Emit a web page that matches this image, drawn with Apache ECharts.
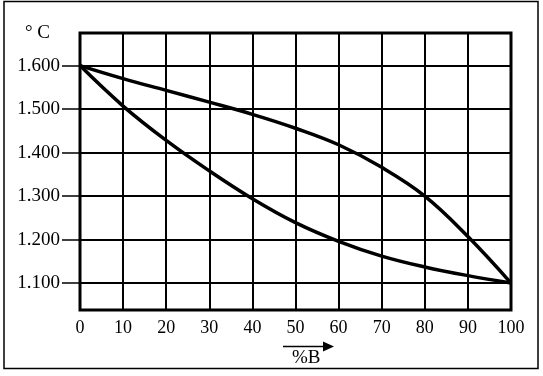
<!DOCTYPE html>
<html><head><meta charset="utf-8">
<script src="https://cdn.jsdelivr.net/npm/echarts@6/dist/echarts.min.js"></script>
<style>html,body{margin:0;padding:0;background:#fff}#c{width:543px;height:376px}</style>
</head><body><div id="c"></div>
<script>
const xValues = [0,10,20,30,40,50,60,70,80,90,100];
const upperCurve = [1600,1570,1543,1516,1488,1456,1418,1366,1300,1207,1100];
const lowerCurve = [1600,1507,1428,1358,1294,1239,1196,1162,1137,1117,1100];
const yTicks = [1100,1200,1300,1400,1500,1600];
const yUnit = '° C';
const xName = '%B';

const FONT = '"Liberation Serif", "DejaVu Serif", serif';
const chart = echarts.init(document.getElementById('c'));
chart.setOption({
  animation: false,
  backgroundColor: '#fff',
  grid: {left: 80, top: 33, right: 32, bottom: 66, show: true, borderColor: '#000', borderWidth: 3, backgroundColor: 'transparent'},
  xAxis: {
    type: 'value', min: 0, max: 100, interval: 10,
    axisLine: {show: false}, axisTick: {show: false},
    axisLabel: {color: '#000', fontFamily: FONT, fontSize: 18, margin: 9},
    splitLine: {show: true, lineStyle: {color: '#000', width: 2}}
  },
  yAxis: {
    type: 'value', min: 1038, max: 1675,
    axisLine: {show: false},
    axisTick: {show: true, customValues: yTicks, length: 18, lineStyle: {color: '#000', width: 1.5}},
    axisLabel: {customValues: yTicks, color: '#000', fontFamily: FONT, fontSize: 19, margin: 20,
      formatter: v => (v/1000).toFixed(3)},
    splitLine: {show: false}
  },
  graphic: [
    {type: 'rect', shape: {x: 4, y: 1.5, width: 534, height: 367}, style: {fill: 'none', stroke: '#000', lineWidth: 1.5}, z: 100},
    {type: 'text', left: 25, top: 24, style: {text: yUnit, font: '19px ' + FONT, fill: '#000'}},
    {type: 'text', left: 292, top: 349, style: {text: xName, font: '19px ' + FONT, fill: '#000'}},
    {type: 'line', shape: {x1: 283, y1: 346.5, x2: 326, y2: 346.5}, style: {stroke: '#000', lineWidth: 1.5}},
    {type: 'polygon', shape: {points: [[323,341.5],[334,346.5],[323,351.5]]}, style: {fill: '#000'}}
  ],
  series: [
    {type: 'line', data: yTicks.map(v => [0, v]), showSymbol: false, lineStyle: {width: 0},
      markLine: {silent: true, symbol: 'none', label: {show: false},
        lineStyle: {color: '#000', width: 2, type: 'solid'},
        data: yTicks.map(v => ({yAxis: v}))}},
    {type: 'line', smooth: 0.4, showSymbol: false, data: xValues.map((x,i) => [x, upperCurve[i]]),
      lineStyle: {color: '#000', width: 3.5}},
    {type: 'line', smooth: 0.4, showSymbol: false, data: xValues.map((x,i) => [x, lowerCurve[i]]),
      lineStyle: {color: '#000', width: 3.5}}
  ]
});
</script></body></html>
